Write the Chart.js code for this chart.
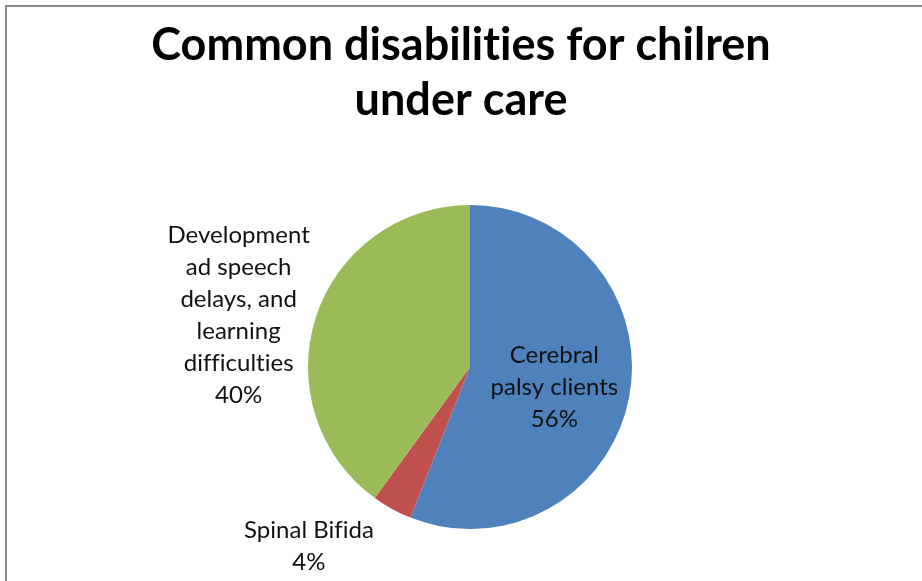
<!DOCTYPE html>
<html>
<head>
<meta charset="utf-8">
<title>Common disabilities for chilren under care</title>
<script src="https://cdn.jsdelivr.net/npm/chart.js@4/dist/chart.umd.min.js"></script>
<style>
  html, body { margin: 0; padding: 0; background: #fff; overflow: hidden; }
  #wrap { position: relative; width: 922px; height: 581px; overflow: hidden; }
  #frame {
    position: absolute; left: 5px; top: 5px; width: 1000px; height: 1000px;
    border-top: 2px solid #8a8a8a; border-left: 2px solid #8a8a8a;
    box-sizing: border-box;
  }
  canvas { position: absolute; left: 0; top: 0; }
</style>
</head>
<body>
<div id="wrap">
  <div id="frame"></div>
  <canvas id="pieChart" width="922" height="581"></canvas>
</div>
<script>
const titleLines = ['Common disabilities for chilren', 'under care'];
const categories = ['Cerebral palsy clients', 'Spinal Bifida', 'Development ad speech delays, and learning difficulties'];
const categoryLines = [
  ['Cerebral', 'palsy clients'],
  ['Spinal Bifida'],
  ['Development', 'ad speech', 'delays, and', 'learning', 'difficulties']
];
const values = [56, 4, 40];
const colors = ['#4f81bd', '#c0504d', '#9bbb59'];

// where each data label sits: inside the slice or just outside its edge
const labelPlacement = [
  { inside: true, radius: 0.53, dy: 4 },
  { inside: false, radius: 1.04, dx: -15, valign: 'top' },
  { inside: false, radius: 1.04, dx: 0, valign: 'middle' }
];

const FONT = 'Lato, "Open Sans", sans-serif';

// no ti / fi ligatures in the text
function plainText(ctx) {
  ctx.textRendering = 'optimizeSpeed';
  ctx.letterSpacing = '0.01px';
}

const titlePlugin = {
  id: 'chartTitle',
  afterDraw(chart) {
    const ctx = chart.ctx;
    ctx.save();
    plainText(ctx);
    ctx.fillStyle = '#000';
    ctx.font = 'bold 45px ' + FONT;
    ctx.textAlign = 'center';
    ctx.textBaseline = 'middle';
    titleLines.forEach((line, i) => {
      ctx.fillText(line, chart.width / 2, 45 + i * 55);
    });
    ctx.restore();
  }
};

const labelPlugin = {
  id: 'sliceLabels',
  afterDatasetsDraw(chart) {
    const ctx = chart.ctx;
    const meta = chart.getDatasetMeta(0);
    const total = values.reduce((a, b) => a + b, 0);
    const lineH = 32;
    ctx.save();
    plainText(ctx);
    ctx.fillStyle = '#111';
    ctx.font = '24px ' + FONT;
    ctx.textBaseline = 'middle';
    ctx.textAlign = 'center';

    meta.data.forEach((arc, i) => {
      const p = arc.getProps(['x', 'y', 'startAngle', 'endAngle', 'outerRadius'], true);
      const mid = (p.startAngle + p.endAngle) / 2;
      const place = labelPlacement[i];
      const lines = categoryLines[i].concat(Math.round(values[i] / total * 100) + '%');
      const w = Math.max(...lines.map(l => ctx.measureText(l).width));
      const h = lines.length * lineH;
      let ax = p.x + Math.cos(mid) * p.outerRadius * place.radius + (place.dx || 0);
      let ay = p.y + Math.sin(mid) * p.outerRadius * place.radius + (place.dy || 0);
      let cx = ax, cy = ay;
      if (!place.inside) {
        cx = Math.cos(mid) < 0 ? ax - w / 2 : ax + w / 2;
        if (place.valign === 'top') cy = ay + h / 2;
        else if (place.valign === 'bottom') cy = ay - h / 2;
      }
      const top = cy - h / 2 + lineH / 2;
      lines.forEach((l, j) => ctx.fillText(l, cx, top + j * lineH));
    });
    ctx.restore();
  }
};

new Chart(document.getElementById('pieChart'), {
  type: 'pie',
  data: {
    labels: categories,
    datasets: [{
      data: values,
      backgroundColor: colors,
      borderWidth: 0
    }]
  },
  options: {
    responsive: false,
    animation: false,
    events: [],
    layout: { padding: { top: 205, bottom: 52, left: 308, right: 290 } },
    plugins: {
      legend: { display: false },
      title: { display: false },
      tooltip: { enabled: false }
    }
  },
  plugins: [titlePlugin, labelPlugin]
});
</script>
</body>
</html>
